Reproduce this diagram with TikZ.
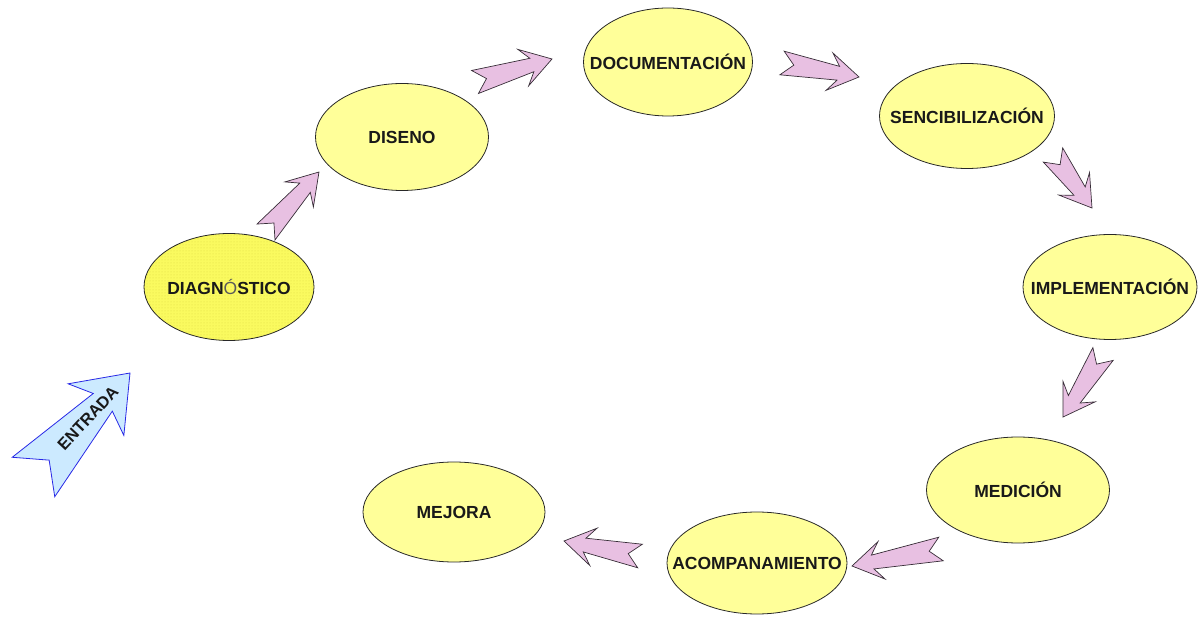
\documentclass[tikz,border=0pt]{standalone}
\usepackage{fontspec}
\setmainfont{Liberation Sans}
\usetikzlibrary{shapes.geometric,calc,patterns}

\definecolor{ellfill}{RGB}{255,255,153}
\definecolor{ellline}{RGB}{40,40,40}
\definecolor{diagfill}{RGB}{250,250,95}
\definecolor{diagdot}{RGB}{222,216,70}
\definecolor{accgray}{RGB}{90,90,90}
\definecolor{pinkfill}{RGB}{232,192,226}
\definecolor{pinkline}{RGB}{55,45,55}
\definecolor{bluefill}{RGB}{204,234,255}
\definecolor{blueline}{RGB}{40,40,230}

% Notched block arrow from tail #2 to tip #3.
% #4 head half width, #5 distance of the barb tips from the tip,
% #6 distance of the barb roots from the tip, #7 shaft half width there,
% #8 tail half width, #9 depth of the tail notch.
\newcommand\blockarrow[9]{%
  \draw[#1] (#3)
    -- ($(#3)!#5!(#2)!#4!90:(#3)$)
    -- ($(#3)!#6!(#2)!#7!90:(#3)$)
    -- ($(#2)!#8!90:(#3)$)
    -- ($(#2)!#9!(#3)$)
    -- ($(#2)!#8!-90:(#3)$)
    -- ($(#3)!#6!(#2)!#7!-90:(#3)$)
    -- ($(#3)!#5!(#2)!#4!-90:(#3)$)
    -- cycle;}
\newcommand\boxlabel[1]{\makebox[0pt]{#1}}

\tikzset{
  stage/.style={ellipse, draw=ellline, line width=0.8pt, fill=ellfill,
    inner sep=0pt, text=black!90,
    font=\fontsize{17.5}{20}\selectfont\bfseries},
  stagedotted/.style={stage, fill=none, preaction={fill=diagfill},
    pattern=dots, pattern color=diagdot},
  pinkarrow/.style={fill=pinkfill, draw=pinkline, line width=0.7pt,
    line join=miter},
  bluearrow/.style={fill=bluefill, draw=blueline, line width=0.8pt,
    line join=miter},
}

\begin{document}
\begin{tikzpicture}[x=1pt, y=-1pt]
\useasboundingbox (0,0) rectangle (1203,617);

% process stages
\node[stagedotted, minimum width=170pt, minimum height=107pt] (dia) at (229,287)
  {\boxlabel{DIAGN{\color{accgray}\mdseries Ó}STICO}};
\node[stage, minimum width=173pt, minimum height=107pt] (dis) at (402,137)
  {\boxlabel{DISENO}};
\node[stage, minimum width=169pt, minimum height=108pt] (doc) at (668,62)
  {\boxlabel{DOCUMENTACIÓN}};
\node[stage, minimum width=175pt, minimum height=105pt] (sen) at (967,116)
  {\boxlabel{SENCIBILIZACIÓN}};
\node[stage, minimum width=174pt, minimum height=105pt] (imp) at (1110,287)
  {\boxlabel{IMPLEMENTACIÓN}};
\node[stage, minimum width=183pt, minimum height=106pt] (med) at (1018,490)
  {\boxlabel{MEDICIÓN}};
\node[stage, minimum width=180pt, minimum height=102pt] (aco) at (757,563)
  {\boxlabel{ACOMPANAMIENTO}};
\node[stage, minimum width=182pt, minimum height=100pt] (mej) at (454,512)
  {\boxlabel{MEJORA}};

% arrow ends between the stages
\coordinate (t1) at (266,232);  \coordinate (h1) at (319,172);
\coordinate (t2) at (475,82);   \coordinate (h2) at (552,59);
\coordinate (t3) at (782,63);   \coordinate (h3) at (859,77);
\coordinate (t4) at (1053,155); \coordinate (h4) at (1092,208);
\coordinate (t5) at (1103,354); \coordinate (h5) at (1063,417);
\coordinate (t6) at (941,549);  \coordinate (h6) at (852,566);
\coordinate (t7) at (640,556);  \coordinate (h7) at (564,541);
\coordinate (et) at (33.5,477); \coordinate (eh) at (130,373);

\blockarrow{pinkarrow}{t1}{h1}{19pt}{30pt}{21pt}{7pt}{12pt}{12pt}
\blockarrow{pinkarrow}{t2}{h2}{19pt}{30pt}{21pt}{7pt}{12pt}{12pt}
\blockarrow{pinkarrow}{t3}{h3}{19pt}{30pt}{21pt}{7pt}{12pt}{12pt}
\blockarrow{pinkarrow}{t4}{h4}{19pt}{30pt}{21pt}{7pt}{12pt}{12pt}
\blockarrow{pinkarrow}{t5}{h5}{19pt}{30pt}{21pt}{7pt}{12pt}{12pt}
\blockarrow{pinkarrow}{t6}{h6}{19pt}{30pt}{21pt}{7pt}{12pt}{12pt}
\blockarrow{pinkarrow}{t7}{h7}{19pt}{30pt}{21pt}{7pt}{12pt}{12pt}

% entry arrow
\blockarrow{bluearrow}{et}{eh}{38pt}{50pt}{40pt}{13pt}{29pt}{23pt}
\node[rotate=47, font=\fontsize{16.5}{18}\selectfont\bfseries, text=black!90]
  (entrada) at ($(et)!80pt!(eh)$) {ENTRADA};
\end{tikzpicture}
\end{document}
